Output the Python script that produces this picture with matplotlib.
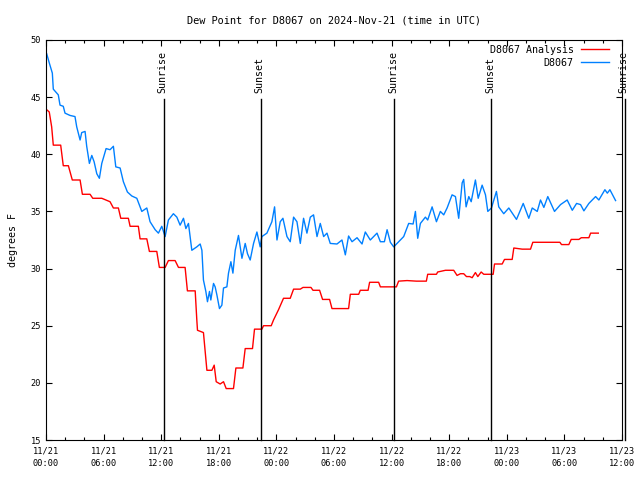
import matplotlib
matplotlib.use('Agg')
import matplotlib.pyplot as plt
from matplotlib.ticker import MultipleLocator

# hours since 2024-11-21 00:00 UTC
obs_t = [0.07, 0.34, 0.66, 0.76, 1.28, 1.46, 1.80, 1.98, 2.50, 3.02, 3.20, 3.55, 3.72, 4.07,
         4.24, 4.52, 4.77, 5.01, 5.29, 5.56, 5.81, 6.26, 6.67, 7.02, 7.27, 7.72, 8.06, 8.48,
         8.94, 9.46, 9.98, 10.50, 10.84, 11.37, 11.71, 12.06, 12.41, 12.75, 13.27, 13.63,
         13.97, 14.32, 14.57, 14.84, 15.19, 15.71, 16.06, 16.24, 16.40, 16.65, 16.82, 17.03,
         17.17, 17.45, 17.62, 17.80, 18.07, 18.32, 18.49, 18.84, 19.01, 19.26, 19.47, 19.71,
         20.05, 20.41, 20.75, 20.99, 21.27, 21.62, 21.97, 22.31, 22.49, 23.01, 23.53, 23.81,
         24.06, 24.40, 24.68, 25.10, 25.44, 25.79, 26.14, 26.49, 26.83, 27.18, 27.53, 27.87,
         28.23, 28.57, 28.92, 29.27, 29.61, 30.31, 30.83, 31.18, 31.52, 31.88, 32.40, 32.92,
         33.26, 33.78, 34.48, 34.83, 35.25, 35.53, 35.87, 36.22, 36.91, 37.26, 37.78, 38.24,
         38.48, 38.72, 39.00, 39.52, 39.76, 40.22, 40.67, 41.08, 41.43, 41.78, 42.30, 42.65,
         42.99, 43.35, 43.51, 43.76, 44.04, 44.29, 44.73, 45.02, 45.43, 45.78, 46.02, 46.40,
         46.92, 47.16, 47.68, 48.21, 49.01, 49.71, 50.29, 50.65, 51.17, 51.51, 51.86, 52.27,
         52.97, 53.60, 54.29, 54.82, 55.27, 55.68, 56.03, 56.55, 57.25, 57.59, 58.22, 58.47,
         58.74, 59.33]
obs_v = [48.8, 48.0, 47.1, 45.7, 45.2, 44.3, 44.2, 43.6, 43.4, 43.3, 42.4, 41.25, 41.9, 42.0,
         40.7, 39.2, 39.9, 39.35, 38.3, 37.9, 39.2, 40.5, 40.4, 40.7, 38.9, 38.8, 37.6, 36.7,
         36.35, 36.15, 35.0, 35.3, 34.1, 33.4, 33.1, 33.7, 32.8, 34.25, 34.8, 34.5,
         33.8, 34.4, 33.5, 33.95, 31.6, 31.9, 32.15, 31.6, 29.0, 28.0, 27.1, 28.0,
         27.25, 28.7, 28.4, 27.7, 26.5, 26.8, 28.3, 28.4, 29.6, 30.6, 29.6, 31.6,
         32.9, 30.9, 32.2, 31.3, 30.75, 32.2, 33.2, 31.9, 32.8, 33.1, 34.1, 35.4,
         32.5, 34.1, 34.4, 32.8, 32.35, 34.5, 34.1, 32.2, 34.4, 33.1, 34.5, 34.7,
         32.8, 33.95, 32.8, 33.1, 32.2, 32.15, 32.5, 31.2, 32.85, 32.35, 32.7, 32.15,
         33.2, 32.5, 33.1, 32.35, 32.35, 33.4, 32.3, 31.9, 32.5, 32.8, 33.95, 33.9,
         35.0, 32.65, 33.95, 34.5, 34.25, 35.4, 34.1, 35.0, 34.7, 35.3, 36.45, 36.3,
         34.4, 37.5, 37.8, 35.4, 36.3, 35.85, 37.75, 36.15, 37.3, 36.45, 35.0, 35.3,
         36.75, 35.4, 34.8, 35.3, 34.3, 35.7, 34.4, 35.3, 35.0, 36.0, 35.35, 36.3,
         35.0, 35.6, 36.0, 35.1, 35.7, 35.6, 35.05, 35.7, 36.3, 36.0, 36.9, 36.6,
         36.9, 35.95]

ana_t = [0.07, 0.34, 0.59, 0.76, 1.53, 1.80, 2.33, 2.74, 3.55, 3.79, 4.59, 4.87, 5.81, 6.67,
         7.02, 7.54, 7.79, 8.58, 8.76, 9.62, 9.80, 10.50, 10.77, 11.54, 11.81, 12.41, 12.75,
         13.45, 13.80, 14.49, 14.73, 15.54, 15.71, 15.78, 16.40, 16.76, 17.28, 17.52, 17.73,
         18.14, 18.49, 18.77, 19.53, 19.78, 20.51, 20.75, 21.51, 21.72, 22.49, 22.66, 23.46,
         23.70, 24.22, 24.74, 25.44, 25.79, 26.49, 26.77, 27.60, 27.81, 28.50, 28.81, 29.54,
         29.79, 31.52, 31.70, 32.57, 32.74, 33.55, 33.71, 34.65, 34.83, 36.50, 36.73, 37.61,
         38.58, 39.62, 39.76, 40.67, 40.80, 41.61, 42.47, 42.82, 43.17, 43.51, 43.80, 44.14,
         44.39, 44.73, 44.98, 45.33, 45.60, 46.58, 46.72, 47.52, 47.76, 48.56, 48.73, 49.60,
         50.47, 50.71, 53.53, 53.70, 54.46, 54.71, 55.51, 55.76, 56.55, 56.73, 57.53]
ana_v = [43.9, 43.7, 42.4, 40.8, 40.8, 39.0, 39.0, 37.75, 37.75, 36.5, 36.5, 36.15, 36.15, 35.85,
         35.3, 35.3, 34.4, 34.4, 33.7, 33.7, 32.6, 32.6, 31.5, 31.5, 30.1, 30.1, 30.7,
         30.7, 30.1, 30.1, 28.05, 28.05, 25.5, 24.6, 24.4, 21.1, 21.1, 21.55, 20.1,
         19.9, 20.1, 19.5, 19.5, 21.3, 21.3, 23.0, 23.0, 24.7, 24.7, 25.0, 25.0,
         25.5, 26.4, 27.4, 27.4, 28.2, 28.2, 28.35, 28.35, 28.1, 28.1, 27.3, 27.3,
         26.5, 26.5, 27.75, 27.75, 28.1, 28.1, 28.8, 28.8, 28.4, 28.4, 28.9, 28.95,
         28.9, 28.9, 29.5, 29.5, 29.7, 29.85, 29.85, 29.4, 29.55, 29.55, 29.3, 29.3,
         29.2, 29.65, 29.3, 29.7, 29.5, 29.5, 30.4, 30.4, 30.8, 30.8, 31.8, 31.7,
         31.7, 32.3, 32.3, 32.1, 32.1, 32.55, 32.55, 32.7, 32.7, 33.1, 33.1]

sun_t = [12.3, 22.4, 36.3, 46.4, 60.3]
sun_lbl = ['Sunrise', 'Sunset', 'Sunrise', 'Sunset', 'Sunrise']

xtick_pos = [0, 6, 12, 18, 24, 30, 36, 42, 48, 54, 60]
xtick_lbl = ['11/21\n00:00', '11/21\n06:00', '11/21\n12:00', '11/21\n18:00',
             '11/22\n00:00', '11/22\n06:00', '11/22\n12:00', '11/22\n18:00',
             '11/23\n00:00', '11/23\n06:00', '11/23\n12:00']

plt.rcParams['font.family'] = 'DejaVu Sans Mono'
plt.rcParams['font.size'] = 7.2

fig = plt.figure(figsize=(6.4, 4.8), dpi=100)
ax = fig.add_axes([46/640, 40/480, 576/640, 400/480])

ax.plot(ana_t, ana_v, color='#ff0000', lw=1.0, label='D8067 Analysis')
ax.plot(obs_t, obs_v, color='#0080ff', lw=1.0, label='D8067')

for t, lbl in zip(sun_t, sun_lbl):
    ax.plot([t, t], [15, 44.85], color='black', lw=1.0, clip_on=False)
    ax.text(t - 0.15, 45.4, lbl, rotation=90, ha='center', va='bottom', fontsize=7.2)

ax.set_xlim(0, 60)
ax.set_ylim(15, 50)
ax.set_xticks(xtick_pos)
ax.set_xticklabels(xtick_lbl, linespacing=1.5)
ax.xaxis.set_minor_locator(MultipleLocator(2))
ax.set_yticks(range(15, 51, 5))
ax.tick_params(which='both', direction='in', top=True, right=True, length=4, width=0.8,
               labelsize=6.2)
ax.tick_params(which='minor', length=2.5)
ax.tick_params(axis='x', pad=5)
for s in ax.spines.values():
    s.set_linewidth(0.8)

ax.set_ylabel('degrees F', labelpad=9, fontsize=7.2)
ax.set_title('Dew Point for D8067 on 2024-Nov-21 (time in UTC)', pad=12, fontsize=7.4)
ax.legend(loc='upper right', bbox_to_anchor=(0.977, 0.9875), frameon=False, markerfirst=False,
          handlelength=2.8, borderaxespad=0, borderpad=0, labelspacing=0.27,
          handletextpad=0.7, fontsize=7.2)

fig.savefig('out.png', dpi=100)
